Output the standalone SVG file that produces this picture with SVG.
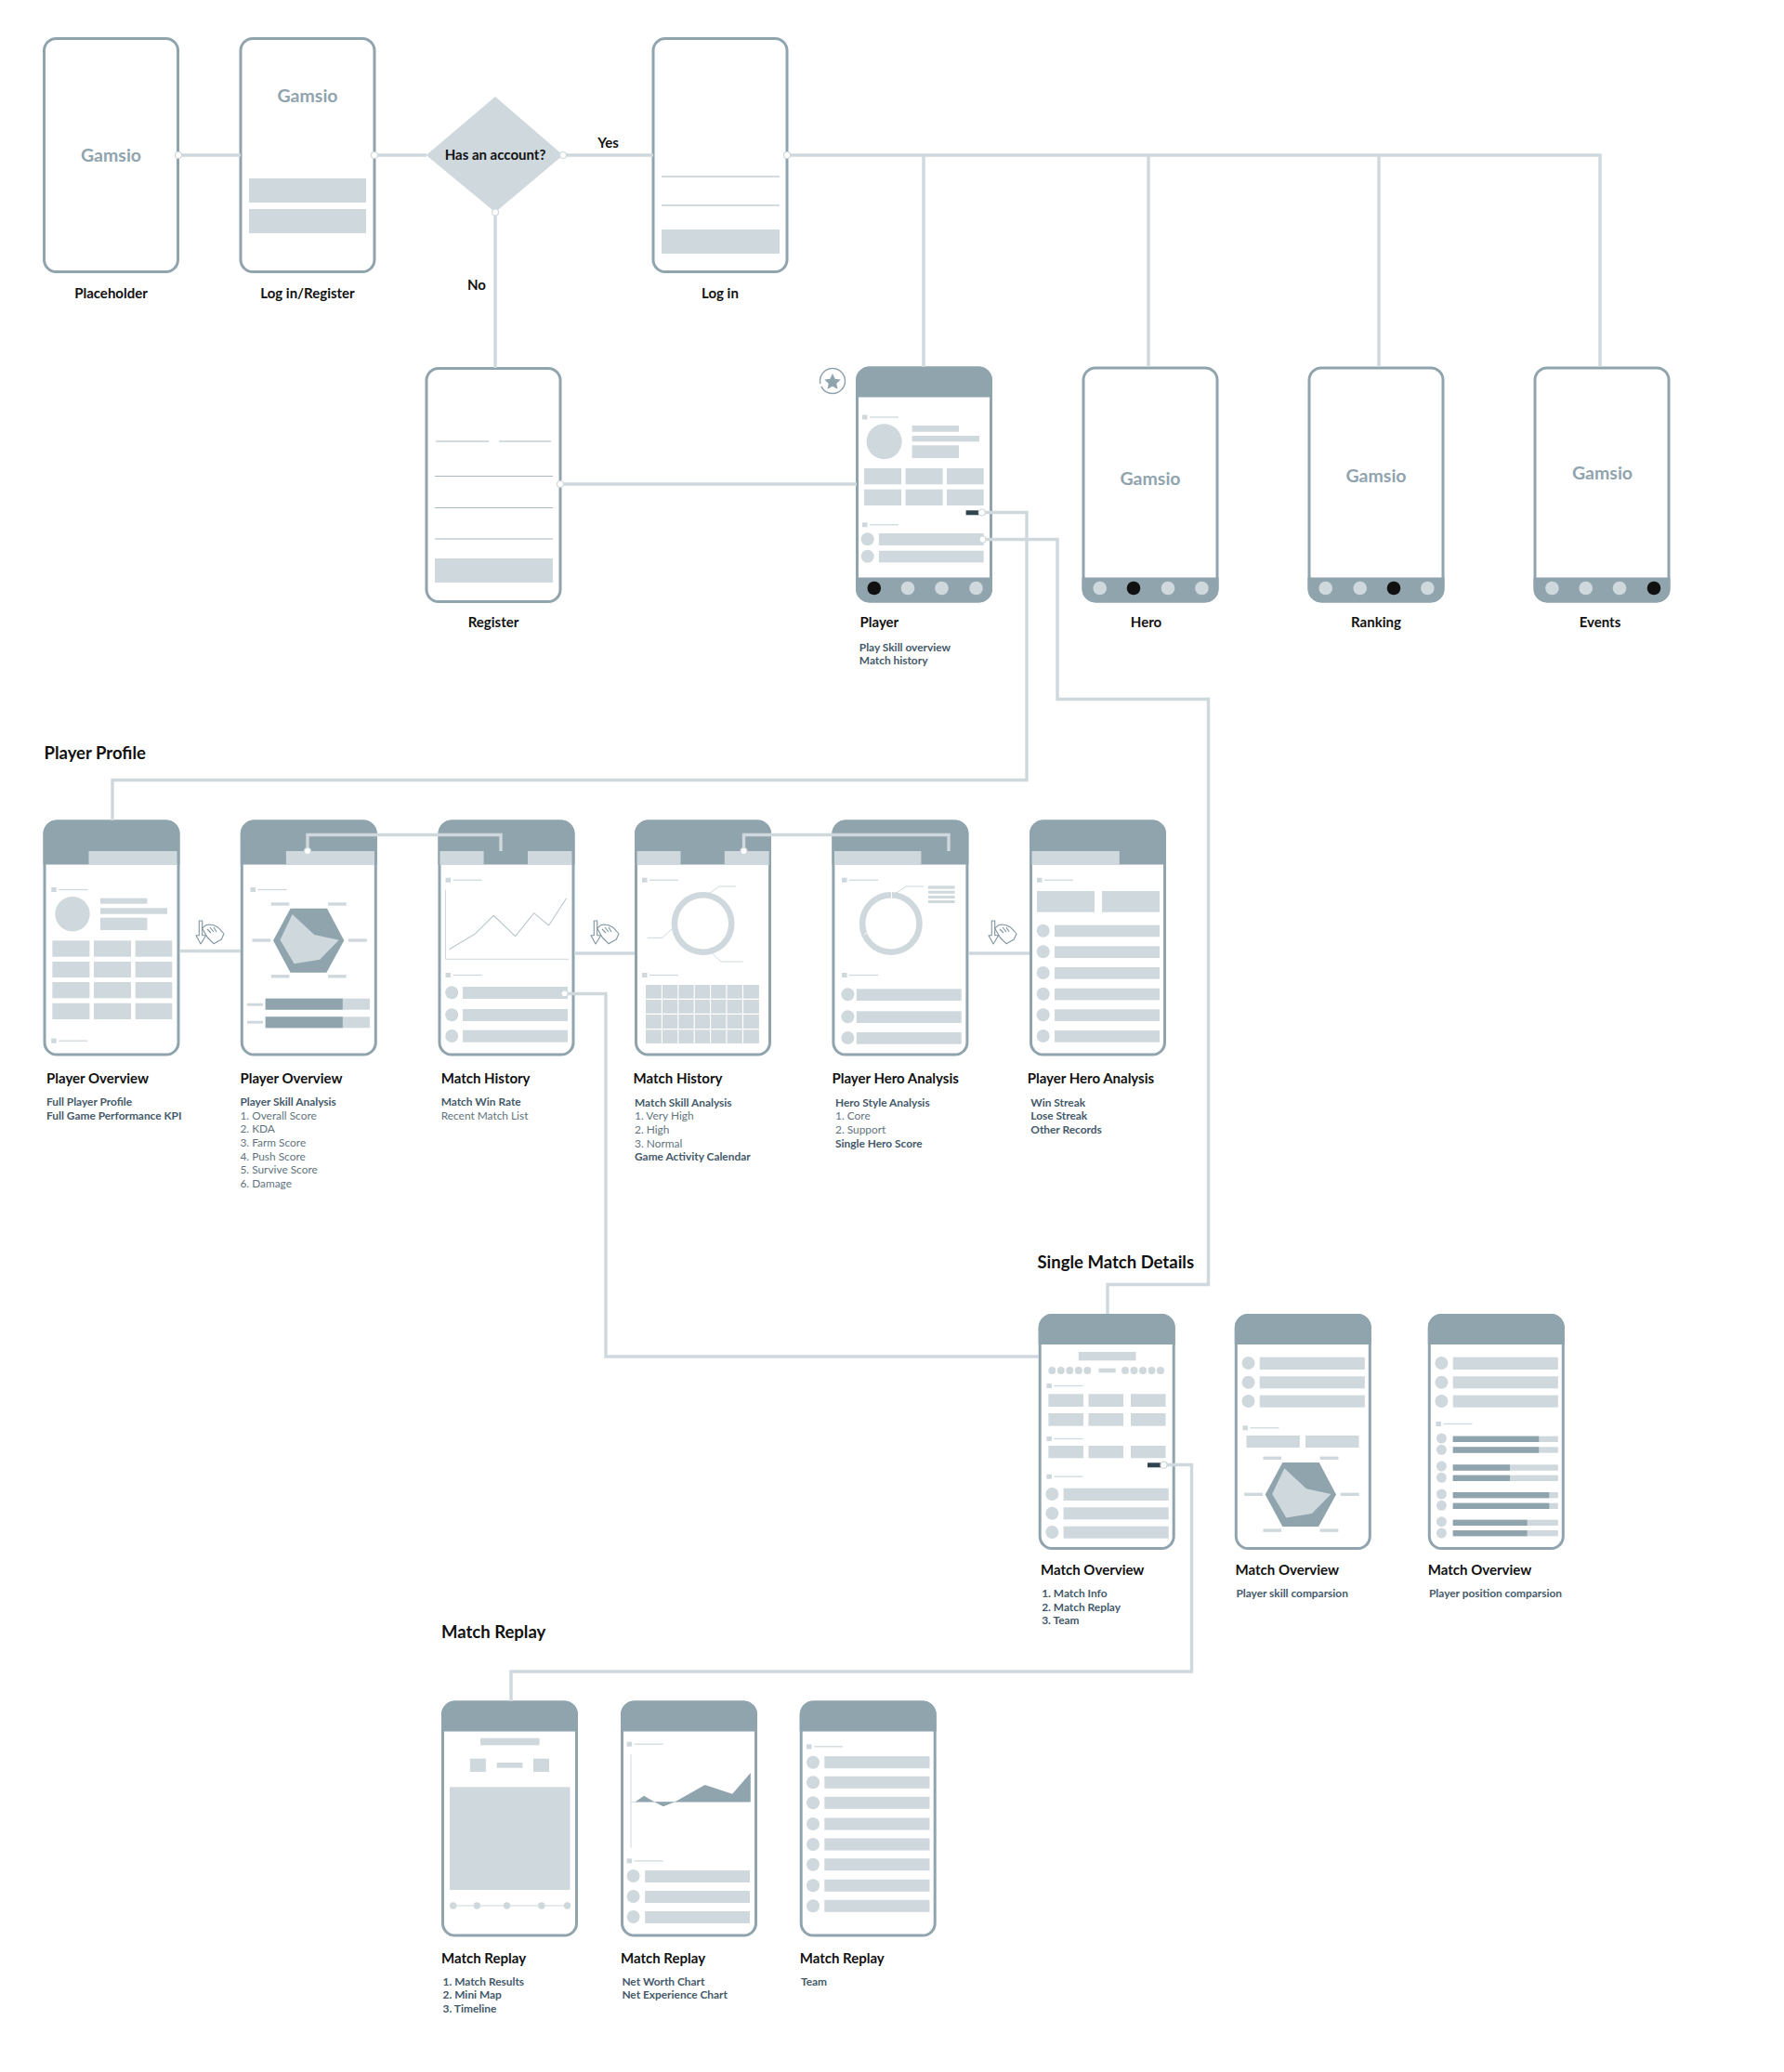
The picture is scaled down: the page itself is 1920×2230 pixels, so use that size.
<svg xmlns="http://www.w3.org/2000/svg" width="1920" height="2230" viewBox="0 0 1920 2230">
<style>
text{font-family:"Lato","Liberation Sans",sans-serif}
.l{fill:#cfd8dc}
.d{fill:#90a4ae}
.ln{stroke:#cfd8dc;fill:none}
.fl{stroke:#a9b8bf;stroke-width:1.2;fill:none}
.dl{fill:#2f434f}
.k{fill:#111}
.g{font-size:19.5px;font-weight:700;fill:#90a4ae;text-anchor:middle}
.t{font-size:15px;font-weight:700;fill:#111}
.m{text-anchor:middle}
.h{font-size:18.5px;font-weight:700;fill:#111}
.s{font-size:11.9px;font-weight:700;fill:#44596a}
.r{font-size:11.9px;font-weight:400;fill:#5f7480}
.g,.t,.s,.r{transform:translateY(.7px)}
.conn{stroke:#cfd8dc;stroke-width:3.4;fill:none}
.dot{fill:#fff;stroke:#cfd8dc;stroke-width:1.2}
.hand{fill:#fff;stroke:#7f959f;stroke-width:1.1;stroke-linejoin:round}
</style>
<defs>
<g id="frame"><rect x="1.5" y="1.5" width="144" height="251" rx="13" fill="#fff" stroke="#90a4ae" stroke-width="3"/></g>
<path id="h33" class="d" d="M0 33V15a15 15 0 0 1 15-15h117a15 15 0 0 1 15 15V33z"/>
<path id="h48" class="d" d="M0 48V15a15 15 0 0 1 15-15h117a15 15 0 0 1 15 15V48z"/>
<path id="ftr" class="d" d="M0 227h147v12a15 15 0 0 1-15 15H15a15 15 0 0 1-15-15z"/>
<g id="mk"><rect width="5.5" height="5" class="l"/><path d="M8 2.500h31" class="ln" stroke-width="1.300"/></g>
<g id="hand"><path class="hand" d="M-11.700-12H-8.300V3.700H-4.300L-10 13-15 3.700H-11.700z"/><path class="hand" d="M-8.300-4L-4.300-7.300-1-8 4-7.300 9-4.700 15 2 12.300 8 4 12.700-2.700 6-5 2z"/><path class="hand" style="fill:none" d="M-3-3L1 1M0-5L4 0M4-5L7 0"/></g>
<g id="radar"><path class="d" d="M0 34.500L18.600 0H58L76.300 34.500 57.400 69H18.600z"/><path class="l" d="M20.600 6.300L44.300 28.300 70.800 34 50.200 55 22.600 59.600 7.500 34z"/>
<g class="l"><rect x="-2.300" y="-6.400" width="19.700" height="3.400"/><rect x="59" y="-6.400" width="19.700" height="3.400"/><rect x="-22.500" y="32.600" width="19.800" height="3.400"/><rect x="81" y="32.600" width="19.900" height="3.400"/><rect x="-2.300" y="71.400" width="19.700" height="3.400"/><rect x="59" y="71.400" width="19.700" height="3.400"/></g></g>
</defs>

<g id="node-placeholder"><use href="#frame" x="46" y="40"/><text class="g" x="119.500" y="173">Gamsio</text><text class="t m" x="119.500" y="320">Placeholder</text></g>
<g id="node-login-register"><use href="#frame" x="257.500" y="40"/><text class="g" x="331" y="109.500">Gamsio</text><rect class="l" x="268" y="192" width="126" height="26"/><rect class="l" x="268" y="225" width="126" height="26"/><text class="t m" x="331" y="320">Log in/Register</text></g>
<g id="node-decision"><path class="l" d="M458.700 167L533 104 606 167 533 228.500z"/><text class="t m" x="533" y="171" style="font-size:15px">Has an account?</text></g>
<g id="node-login"><use href="#frame" x="701.500" y="40"/><path class="fl" d="M712 190H839M712 221H839"/><rect class="l" x="712" y="247" width="127" height="26"/><text class="t m" x="775" y="320">Log in</text></g>
<g id="node-register"><use href="#frame" x="457.500" y="395"/><path class="fl" d="M469 475H526M537 475H593M468 512.500H595M468 546.500H595M468 580H595"/><rect class="l" x="468" y="601" width="127" height="26"/><text class="t m" x="531" y="674">Register</text></g>

<g id="node-player"><use href="#frame" x="921" y="394.500"/><use href="#h33" x="921" y="394.500"/><use href="#ftr" x="921" y="394.500"/>
<circle cx="896" cy="410" r="13.500" fill="#fff" stroke="#90a4ae" stroke-width="1.500" stroke-dasharray="36 3 46"/><path class="d" d="M896 402l2.700 5.700 6.100.8-4.500 4.200 1.200 6.100-5.500-3-5.500 3 1.200-6.100-4.500-4.200 6.100-.8z"/>
<use href="#mk" x="928" y="446.500"/><circle class="l" cx="951.600" cy="475.300" r="19"/><rect class="l" x="981.600" y="458" width="50.400" height="6.700"/><rect class="l" x="981.600" y="469" width="72.400" height="6.300"/><rect class="l" x="981.600" y="479.300" width="50.400" height="13.700"/>
<g class="l"><rect x="930" y="504" width="40" height="17.300"/><rect x="974.600" y="504" width="40" height="17.300"/><rect x="1019" y="504" width="39.700" height="17.300"/><rect x="930" y="526.700" width="40" height="17.300"/><rect x="974.600" y="526.700" width="40" height="17.300"/><rect x="1019" y="526.700" width="39.700" height="17.300"/></g>
<rect class="dl" x="1039.600" y="549.300" width="14" height="5"/><use href="#mk" x="928" y="562.300"/>
<circle class="l" cx="933.700" cy="580.300" r="7"/><rect class="l" x="945.900" y="574" width="112.800" height="13"/><circle class="l" cx="933.700" cy="598.700" r="7"/><rect class="l" x="945.900" y="592.700" width="112.800" height="12.600"/>
<circle class="k" cx="940.800" cy="633" r="7.300"/><g class="l"><circle cx="977" cy="633" r="7.300"/><circle cx="1013.500" cy="633" r="7.300"/><circle cx="1050.500" cy="633" r="7.300"/></g>
<text class="t" x="925.500" y="674">Player</text><text class="s" x="924.800" y="700">Play Skill overview</text><text class="s" x="924.800" y="714.700">Match history</text></g>

<g id="node-hero"><use href="#frame" x="1164.500" y="394.500"/><use href="#ftr" x="1164.500" y="394.500"/><text class="g" x="1238" y="521">Gamsio</text><g class="l"><circle cx="1183.700" cy="633" r="7.300"/><circle cx="1257" cy="633" r="7.300"/><circle cx="1293.400" cy="633" r="7.300"/></g><circle class="k" cx="1220" cy="633" r="7.300"/><text class="t m" x="1233.500" y="674">Hero</text></g>
<g id="node-ranking"><use href="#frame" x="1407.500" y="394.500"/><use href="#ftr" x="1407.500" y="394.500"/><text class="g" x="1481" y="518">Gamsio</text><g class="l"><circle cx="1426.700" cy="633" r="7.300"/><circle cx="1463.700" cy="633" r="7.300"/><circle cx="1536.400" cy="633" r="7.300"/></g><circle class="k" cx="1500" cy="633" r="7.300"/><text class="t m" x="1481" y="674">Ranking</text></g>
<g id="node-events"><use href="#frame" x="1650.500" y="394.500"/><use href="#ftr" x="1650.500" y="394.500"/><text class="g" x="1724.500" y="515">Gamsio</text><g class="l"><circle cx="1670.400" cy="633" r="7.300"/><circle cx="1706.700" cy="633" r="7.300"/><circle cx="1743" cy="633" r="7.300"/></g><circle class="k" cx="1780" cy="633" r="7.300"/><text class="t m" x="1722" y="674">Events</text></g>

<text class="h" x="47.500" y="816.500">Player Profile</text>

<g id="node-player-overview-1"><use href="#frame" x="46.500" y="882.500"/><use href="#h48" x="46.500" y="882.500"/><rect class="l" x="95.500" y="916" width="95" height="15"/>
<use href="#mk" x="55.200" y="955"/><circle class="l" cx="78" cy="983.700" r="18.700"/><rect class="l" x="108" y="966.700" width="50.400" height="6"/><rect class="l" x="108" y="977.300" width="72" height="6.400"/><rect class="l" x="108" y="987.700" width="50.400" height="13.300"/>
<g class="l"><rect x="56.400" y="1012.300" width="40" height="17.400"/><rect x="101" y="1012.300" width="40" height="17.400"/><rect x="145.700" y="1012.300" width="39.600" height="17.400"/><rect x="56.400" y="1035" width="40" height="17"/><rect x="101" y="1035" width="40" height="17"/><rect x="145.700" y="1035" width="39.600" height="17"/><rect x="56.400" y="1057" width="40" height="17.300"/><rect x="101" y="1057" width="40" height="17.300"/><rect x="145.700" y="1057" width="39.600" height="17.300"/><rect x="56.400" y="1079.700" width="40" height="17.300"/><rect x="101" y="1079.700" width="40" height="17.300"/><rect x="145.700" y="1079.700" width="39.600" height="17.300"/></g>
<use href="#mk" x="55.200" y="1117.700"/>
<text class="t" x="50" y="1165.300">Player Overview</text><text class="s" x="50" y="1189.300">Full Player Profile</text><text class="s" x="50" y="1204">Full Game Performance KPI</text></g>

<g id="node-player-overview-2"><use href="#frame" x="258.800" y="882.500"/><use href="#h48" x="258.800" y="882.500"/><rect class="l" x="307.900" y="916" width="95.100" height="15"/><use href="#mk" x="269.500" y="955"/>
<use href="#radar" x="294" y="977.700"/>
<rect class="l" x="266" y="1079.700" width="17" height="3"/><rect class="l" x="285.700" y="1074.700" width="112.300" height="12"/><rect class="d" x="285.700" y="1074.700" width="83.100" height="12"/><rect class="l" x="266" y="1098.700" width="17" height="3"/><rect class="l" x="285.700" y="1094.300" width="112.300" height="12"/><rect class="d" x="285.700" y="1094.300" width="83.100" height="12"/>
<text class="t" x="258.400" y="1165.300">Player Overview</text><text class="s" x="258.400" y="1189.300">Player Skill Analysis</text><text class="r" x="258.400" y="1204">1. Overall Score</text><text class="r" x="258.400" y="1218.700">2. KDA</text><text class="r" x="258.400" y="1233.300">3. Farm Score</text><text class="r" x="258.400" y="1248">4. Push Score</text><text class="r" x="258.400" y="1262.700">5. Survive Score</text><text class="r" x="258.400" y="1277.300">6. Damage</text></g>

<g id="node-match-history-1"><use href="#frame" x="471.500" y="882.500"/><use href="#h48" x="471.500" y="882.500"/><rect class="l" x="473.500" y="916" width="47.100" height="15"/><rect class="l" x="568" y="916" width="47.500" height="15"/><use href="#mk" x="479.500" y="944.700"/>
<path class="ln" stroke-width="1" d="M479.500 957.700V1032.300H612"/><path d="M483.400 1021.700L511 1005.300 531.300 985.300 554.600 1007.700 574.700 982.700 590.600 996 609.600 966.700" class="ln" stroke-width="1.100" style="stroke:#b9c6cc"/>
<use href="#mk" x="479.500" y="1047"/><circle class="l" cx="486.200" cy="1068.300" r="7"/><rect class="l" x="498" y="1062" width="113" height="13"/><circle class="l" cx="486.200" cy="1092.300" r="7"/><rect class="l" x="498" y="1086" width="113" height="13"/><circle class="l" cx="486.200" cy="1115" r="7"/><rect class="l" x="498" y="1108.700" width="113" height="13"/>
<text class="t" x="474.700" y="1165.300">Match History</text><text class="s" x="474.700" y="1189.300">Match Win Rate</text><text class="r" x="474.700" y="1204">Recent Match List</text></g>

<g id="node-match-history-2"><use href="#frame" x="683" y="882.500"/><use href="#h48" x="683" y="882.500"/><rect class="l" x="685.600" y="916" width="46.900" height="15"/><rect class="l" x="779.800" y="916" width="47.800" height="15"/><use href="#mk" x="691" y="944.700"/>
<circle cx="756.600" cy="994" r="30.700" fill="none" stroke="#cfd8dc" stroke-width="6.500"/><path class="ln" stroke-width="1" d="M762.900 961.700L774 954H792.300M723.600 999.300L712.900 1009.300H696.800M762.900 1022.700L776 1035H799.500"/>
<use href="#mk" x="691" y="1047"/><rect class="l" x="695" y="1060" width="121.900" height="63"/><path d="M712.400 1060V1123M729.800 1060V1123M747.200 1060V1123M764.600 1060V1123M782 1060V1123M799.500 1060V1123M695 1075.300H817M695 1091.300H817M695 1107.700H817" stroke="#fff" stroke-width="1.200" fill="none"/>
<text class="t" x="681.600" y="1165.300">Match History</text><text class="s" x="683" y="1190">Match Skill Analysis</text><text class="r" x="683" y="1204.700">1. Very High</text><text class="r" x="683" y="1219.300">2. High</text><text class="r" x="683" y="1234">3. Normal</text><text class="s" x="683" y="1248.700">Game Activity Calendar</text></g>

<g id="node-hero-analysis-1"><use href="#frame" x="895.400" y="882.500"/><use href="#h48" x="895.400" y="882.500"/><rect class="l" x="898" y="916" width="93.400" height="15"/><use href="#mk" x="906" y="944.700"/>
<circle cx="958.800" cy="994" r="30.700" fill="none" stroke="#cfd8dc" stroke-width="6.500"/><path class="ln" stroke-width="1" d="M963.800 961.700L975 954H994"/><path d="M959.500 960V966.500M930 1006L934 1003" stroke="#fff" stroke-width="1" fill="none"/>
<g class="l"><rect x="999" y="953.300" width="28.600" height="3.400"/><rect x="999" y="958.700" width="28.600" height="3"/><rect x="999" y="964" width="28.600" height="3"/><rect x="999" y="969" width="28.600" height="3"/></g>
<use href="#mk" x="906" y="1047"/><circle class="l" cx="912.400" cy="1070.300" r="7"/><rect class="l" x="921.800" y="1064.300" width="112.900" height="12.700"/><circle class="l" cx="912.400" cy="1094.300" r="7"/><rect class="l" x="921.800" y="1088.300" width="112.900" height="12.700"/><circle class="l" cx="912.400" cy="1117" r="7"/><rect class="l" x="921.800" y="1111" width="112.900" height="12.700"/>
<text class="t" x="895.400" y="1165.300">Player Hero Analysis</text><text class="s" x="899" y="1190">Hero Style Analysis</text><text class="r" x="899" y="1204.700">1. Core</text><text class="r" x="899" y="1219.300">2. Support</text><text class="s" x="899" y="1234">Single Hero Score</text></g>

<g id="node-hero-analysis-2"><use href="#frame" x="1108" y="882.500"/><use href="#h48" x="1108" y="882.500"/><rect class="l" x="1110.600" y="916" width="94.200" height="15"/><use href="#mk" x="1116" y="944.700"/><rect class="l" x="1116" y="959" width="62" height="22.700"/><rect class="l" x="1186" y="959" width="62" height="22.700"/>
<g class="l"><circle cx="1122.700" cy="1001.700" r="7"/><rect x="1135" y="995.700" width="113" height="12.600"/><circle cx="1122.700" cy="1024.300" r="7"/><rect x="1135" y="1018.300" width="113" height="12.700"/><circle cx="1122.700" cy="1047" r="7"/><rect x="1135" y="1041" width="113" height="12.700"/><circle cx="1122.700" cy="1069.700" r="7"/><rect x="1135" y="1063.700" width="113" height="12.600"/><circle cx="1122.700" cy="1092.300" r="7"/><rect x="1135" y="1086.300" width="113" height="12.700"/><circle cx="1122.700" cy="1115" r="7"/><rect x="1135" y="1109" width="113" height="12.700"/></g>
<text class="t" x="1105.700" y="1165.300">Player Hero Analysis</text><text class="s" x="1109.300" y="1190">Win Streak</text><text class="s" x="1109.300" y="1204.700">Lose Streak</text><text class="s" x="1109.300" y="1219.300">Other Records</text></g>

<text class="h" x="1116.500" y="1365">Single Match Details</text>

<g id="node-match-overview-1"><use href="#frame" x="1117.700" y="1414"/><use href="#h33" x="1117.700" y="1414"/><rect class="l" x="1160.800" y="1455" width="61.700" height="9.300"/>
<g class="l"><circle cx="1132.300" cy="1475" r="4"/><circle cx="1141.800" cy="1475" r="4"/><circle cx="1151.300" cy="1475" r="4"/><circle cx="1160.800" cy="1475" r="4"/><circle cx="1170.300" cy="1475" r="4"/><rect x="1182.500" y="1472.700" width="18.200" height="4.600"/><circle cx="1211" cy="1475" r="4"/><circle cx="1220.500" cy="1475" r="4"/><circle cx="1230" cy="1475" r="4"/><circle cx="1239.500" cy="1475" r="4"/><circle cx="1249" cy="1475" r="4"/>
<rect x="1128.400" y="1500.300" width="37.600" height="13.700"/><rect x="1171.500" y="1500.300" width="37.500" height="13.700"/><rect x="1217" y="1500.300" width="37.500" height="13.700"/><rect x="1128.400" y="1521" width="37.600" height="13.700"/><rect x="1171.500" y="1521" width="37.500" height="13.700"/><rect x="1217" y="1521" width="37.500" height="13.700"/><rect x="1128.400" y="1556" width="37.600" height="13.300"/><rect x="1171.500" y="1556" width="37.500" height="13.300"/><rect x="1217" y="1556" width="37.500" height="13.300"/>
<circle cx="1132.300" cy="1608" r="7"/><rect x="1144.600" y="1601.700" width="113.100" height="13.300"/><circle cx="1132.300" cy="1628.700" r="7"/><rect x="1144.600" y="1622.300" width="113.100" height="13"/><circle cx="1132.300" cy="1649" r="7"/><rect x="1144.600" y="1642.700" width="113.100" height="13"/></g>
<use href="#mk" x="1126.400" y="1489"/><use href="#mk" x="1126.400" y="1546"/><use href="#mk" x="1126.400" y="1586.700"/><rect class="dl" x="1235" y="1574.300" width="14" height="5"/>
<text class="t" x="1120" y="1694.700">Match Overview</text><text class="s" x="1121.200" y="1718.300">1. Match Info</text><text class="s" x="1121.200" y="1733">2. Match Replay</text><text class="s" x="1121.200" y="1747.700">3. Team</text></g>

<g id="node-match-overview-2"><use href="#frame" x="1328.800" y="1414"/><use href="#h33" x="1328.800" y="1414"/>
<g class="l"><circle cx="1343.500" cy="1467" r="7"/><rect x="1355.700" y="1460.700" width="113.100" height="13.300"/><circle cx="1343.500" cy="1487.700" r="7"/><rect x="1355.700" y="1481.300" width="113.100" height="13"/><circle cx="1343.500" cy="1508" r="7"/><rect x="1355.700" y="1501.700" width="113.100" height="13"/><rect x="1341.500" y="1545" width="57.300" height="13"/><rect x="1405" y="1545" width="57.500" height="13"/></g><use href="#mk" x="1337.500" y="1534.300"/>
<use href="#radar" x="1361.700" y="1574"/>
<text class="t" x="1329.600" y="1694.700">Match Overview</text><text class="s" x="1330.400" y="1718.300">Player skill comparsion</text></g>

<g id="node-match-overview-3"><use href="#frame" x="1536.800" y="1414"/><use href="#h33" x="1536.800" y="1414"/>
<g class="l"><circle cx="1551.400" cy="1467" r="7"/><rect x="1563.700" y="1460.700" width="113.100" height="13.300"/><circle cx="1551.400" cy="1487.700" r="7"/><rect x="1563.700" y="1481.300" width="113.100" height="13"/><circle cx="1551.400" cy="1508" r="7"/><rect x="1563.700" y="1501.700" width="113.100" height="13"/>
<circle cx="1551.400" cy="1548" r="5.500"/><circle cx="1551.400" cy="1560.300" r="5.500"/><circle cx="1551.400" cy="1578" r="5.500"/><circle cx="1551.400" cy="1590.300" r="5.500"/><circle cx="1551.400" cy="1608" r="5.500"/><circle cx="1551.400" cy="1620.300" r="5.500"/><circle cx="1551.400" cy="1637.700" r="5.500"/><circle cx="1551.400" cy="1650" r="5.500"/>
<rect x="1563.700" y="1545.700" width="113.100" height="6.300"/><rect x="1563.700" y="1557.300" width="113.100" height="6.400"/><rect x="1563.700" y="1576.300" width="113.100" height="6.400"/><rect x="1563.700" y="1587.700" width="113.100" height="6.300"/><rect x="1563.700" y="1606" width="113.100" height="6.300"/><rect x="1563.700" y="1617.700" width="113.100" height="6.300"/><rect x="1563.700" y="1635.700" width="113.100" height="6.300"/><rect x="1563.700" y="1647" width="113.100" height="6.300"/></g>
<g class="d"><rect x="1563.700" y="1545.700" width="92.500" height="6.300"/><rect x="1563.700" y="1557.300" width="92.500" height="6.400"/><rect x="1563.700" y="1576.300" width="61.300" height="6.400"/><rect x="1563.700" y="1587.700" width="61.300" height="6.300"/><rect x="1563.700" y="1606" width="103.600" height="6.300"/><rect x="1563.700" y="1617.700" width="103.600" height="6.300"/><rect x="1563.700" y="1635.700" width="79.900" height="6.300"/><rect x="1563.700" y="1647" width="79.900" height="6.300"/></g>
<use href="#mk" x="1545.500" y="1530"/>
<text class="t" x="1536.800" y="1694.700">Match Overview</text><text class="s" x="1538" y="1718.300">Player position comparsion</text></g>

<text class="h" x="475" y="1763">Match Replay</text>

<g id="node-match-replay-1"><use href="#frame" x="475" y="1830.500"/><use href="#h33" x="475" y="1830.500"/><g class="l"><rect x="517" y="1870.700" width="63.600" height="7.600"/><rect x="505.900" y="1892.700" width="17" height="14.300"/><rect x="534.700" y="1897" width="27.800" height="5.700"/><rect x="574" y="1892.700" width="17" height="14.300"/><rect x="484" y="1923.300" width="129.500" height="110.700"/>
<rect x="487.700" y="2050.500" width="122.900" height="1"/><circle cx="487.700" cy="2051" r="3.700"/><circle cx="513.300" cy="2051" r="3.700"/><circle cx="545.500" cy="2051" r="3.700"/><circle cx="582.800" cy="2051" r="3.700"/><circle cx="610.600" cy="2051" r="3.700"/></g>
<text class="t" x="475" y="2112.700">Match Replay</text><text class="s" x="476.600" y="2136">1. Match Results</text><text class="s" x="476.600" y="2150.700">2. Mini Map</text><text class="s" x="476.600" y="2165">3. Timeline</text></g>

<g id="node-match-replay-2"><use href="#frame" x="668" y="1830.500"/><use href="#h33" x="668" y="1830.500"/><use href="#mk" x="674.600" y="1874.700"/><path class="ln" stroke-width="1" d="M679 1888.300V1988.700M679 1939.300H807"/>
<path class="d" d="M683.800 1939.300L693 1932.700 704.200 1939.300 713.800 1944.300 726.400 1939.300 758.600 1921 788.200 1930.700 807.800 1908V1939.300z"/><use href="#mk" x="674.600" y="2000.300"/>
<g class="l"><circle cx="681.600" cy="2019" r="7"/><rect x="694.200" y="2013" width="112.800" height="13"/><circle cx="681.600" cy="2041" r="7"/><rect x="694.200" y="2035" width="112.800" height="13"/><circle cx="681.600" cy="2063" r="7"/><rect x="694.200" y="2057" width="112.800" height="13"/></g>
<text class="t" x="668" y="2112.700">Match Replay</text><text class="s" x="669.400" y="2136">Net Worth Chart</text><text class="s" x="669.400" y="2150.700">Net Experience Chart</text></g>

<g id="node-match-replay-3"><use href="#frame" x="860.700" y="1830.500"/><use href="#h33" x="860.700" y="1830.500"/><use href="#mk" x="868" y="1877.300"/>
<g class="l"><circle cx="875" cy="1896.700" r="7"/><rect x="887.300" y="1890.200" width="113.200" height="13"/><circle cx="875" cy="1918.300" r="7"/><rect x="887.300" y="1911.800" width="113.200" height="13"/><circle cx="875" cy="1940.300" r="7"/><rect x="887.300" y="1933.800" width="113.200" height="13"/><circle cx="875" cy="1963" r="7"/><rect x="887.300" y="1956.500" width="113.200" height="13"/><circle cx="875" cy="1985" r="7"/><rect x="887.300" y="1978.500" width="113.200" height="13"/><circle cx="875" cy="2006.700" r="7"/><rect x="887.300" y="2000.200" width="113.200" height="13"/><circle cx="875" cy="2029.300" r="7"/><rect x="887.300" y="2022.800" width="113.200" height="13"/><circle cx="875" cy="2051.300" r="7"/><rect x="887.300" y="2044.800" width="113.200" height="13"/></g>
<text class="t" x="860.700" y="2112.700">Match Replay</text><text class="s" x="862" y="2136">Team</text></g>

<g id="connectors">
<path class="conn" d="M192 167H259M403 167H459M606 167H703M533 228V396"/>
<path class="conn" d="M847 167H1722V395M994 167V395M1236 167V395M1484 167V395"/>
<path class="conn" d="M603 521H922"/>
<path class="conn" d="M1057 551.500H1105V839.500H121V883"/>
<path class="conn" d="M1058 580.500H1138V752.500H1300.500V1382.500H1192V1414"/>
<path class="conn" d="M193 1023.500H259M618 1026H683M1042 1026H1108"/>
<path class="conn" d="M331 916V898.500H539V916M800.500 916V898.500H1021V916"/>
<path class="conn" d="M608 1069.500H652V1460H1118"/>
<path class="conn" d="M1252 1576.500H1282.500V1799H550V1831"/>
<g class="dot"><circle cx="192" cy="167" r="3.500"/><circle cx="403" cy="167" r="3.500"/><circle cx="606" cy="167" r="3.500"/><circle cx="847" cy="167" r="3.500"/><circle cx="533" cy="228.500" r="3.500"/><circle cx="603" cy="521" r="3.500"/><circle cx="1056.800" cy="551.500" r="3.500"/><circle cx="1057.500" cy="580.500" r="3.500"/><circle cx="607.600" cy="1069.300" r="3.500"/><circle cx="1252.500" cy="1576.700" r="3.500"/><circle cx="331" cy="916" r="3.500"/><circle cx="800.500" cy="916" r="3.500"/></g>
</g>
<g id="labels"><text class="t m" x="654.500" y="158.500">Yes</text><text class="t m" x="513" y="311.500">No</text></g>
<g id="gestures"><use href="#hand" x="226" y="1003"/><use href="#hand" x="651" y="1003"/><use href="#hand" x="1079" y="1003"/></g>
</svg>
